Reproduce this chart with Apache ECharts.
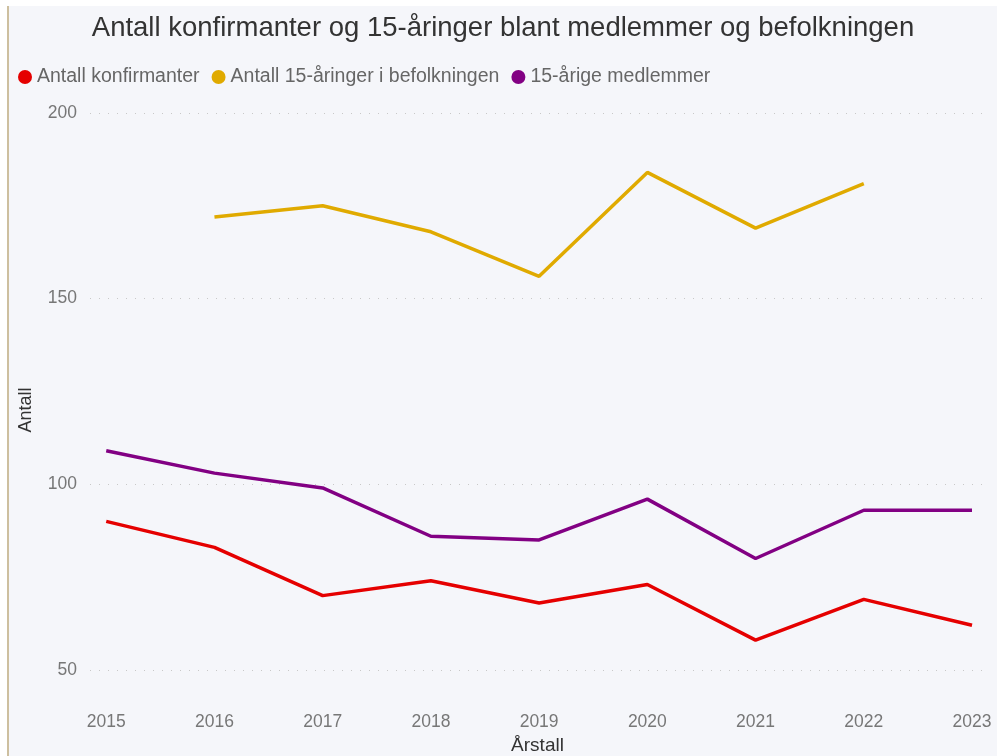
<!DOCTYPE html>
<html>
<head>
<meta charset="utf-8">
<script src="https://cdn.jsdelivr.net/npm/echarts@6/dist/echarts.min.js"></script>
<style>
  body { margin: 0; background: #ffffff; }
  #frame {
    position: absolute; left: 7px; top: 6px;
    width: 988px; height: 750px;
    border-left: 2px solid #cdbf9f;
    background: #f5f6fa;
  }
  #chart { width: 988px; height: 750px; }
</style>
</head>
<body>
<div id="frame"><div id="chart"></div></div>
<script>
// years on the x axis
var years = [2015, 2016, 2017, 2018, 2019, 2020, 2021, 2022, 2023];
// series values
var konfirmanter = [90, 83, 70, 74, 68, 73, 58, 69, 62];
var befolkning = [null, 172, 175, 168, 156, 184, 169, 181, null];
var medlemmer = [109, 103, 99, 86, 85, 96, 80, 93, 93];
var yTicks = [50, 100, 150, 200];

function pairs(vals) {
    var out = [];
    for (var i = 0; i < years.length; i++) {
        out.push([years[i], vals[i]]);
    }
    return out;
}

var chart = echarts.init(document.getElementById('chart'));

var option = {
    backgroundColor: 'transparent',
    textStyle: { fontFamily: 'Liberation Sans, Arial, sans-serif' },
    title: {
        text: 'Antall konfirmanter og 15-åringer blant medlemmer og befolkningen',
        left: 'center',
        top: 3,
        textStyle: { fontSize: 27.5, fontWeight: 'normal', color: '#333333' }
    },
    legend: {
        left: 4,
        top: 56,
        icon: 'circle',
        itemWidth: 14,
        itemHeight: 14,
        itemGap: 12,
        textStyle: { fontSize: 19.5, color: '#666666' },
        data: ['Antall konfirmanter', 'Antall 15-åringer i befolkningen', '15-årige medlemmer']
    },
    grid: { left: 81, right: 12, top: 107, bottom: 49, outerBoundsMode: 'none' },
    xAxis: {
        type: 'value',
        min: 2014.85,
        max: 2023.12,
        name: 'Årstall',
        nameLocation: 'middle',
        nameGap: 28,
        nameTextStyle: { fontSize: 19, color: '#333333' },
        axisLine: { show: false },
        axisTick: { show: false },
        splitLine: { show: false },
        axisLabel: {
            customValues: years,
            margin: 6,
            fontSize: 17.5,
            color: '#777777',
            formatter: function (v) { return String(v); }
        }
    },
    yAxis: {
        type: 'value',
        min: 40,
        max: 200,
        name: 'Antall',
        nameLocation: 'middle',
        nameGap: 55,
        nameRotate: 90,
        nameTextStyle: { fontSize: 18, color: '#333333' },
        axisLine: { show: false },
        axisTick: { show: false, customValues: yTicks },
        axisLabel: { customValues: yTicks, margin: 13, fontSize: 17.5, color: '#777777' },
        splitLine: { show: true, lineStyle: { type: [1, 8], color: '#c8c8c8', width: 1 } }
    },
    series: [{
        name: 'Antall konfirmanter',
        type: 'line',
        data: pairs(konfirmanter),
        color: '#e50000',
        symbol: 'none',
        lineStyle: { width: 3.5 }
    }, {
        name: 'Antall 15-åringer i befolkningen',
        type: 'line',
        data: pairs(befolkning),
        color: '#e0aa00',
        symbol: 'none',
        lineStyle: { width: 3.5 }
    }, {
        name: '15-årige medlemmer',
        type: 'line',
        data: pairs(medlemmer),
        color: '#820083',
        symbol: 'none',
        lineStyle: { width: 3.5 }
    }]
};

chart.setOption(option);
</script>
</body>
</html>
